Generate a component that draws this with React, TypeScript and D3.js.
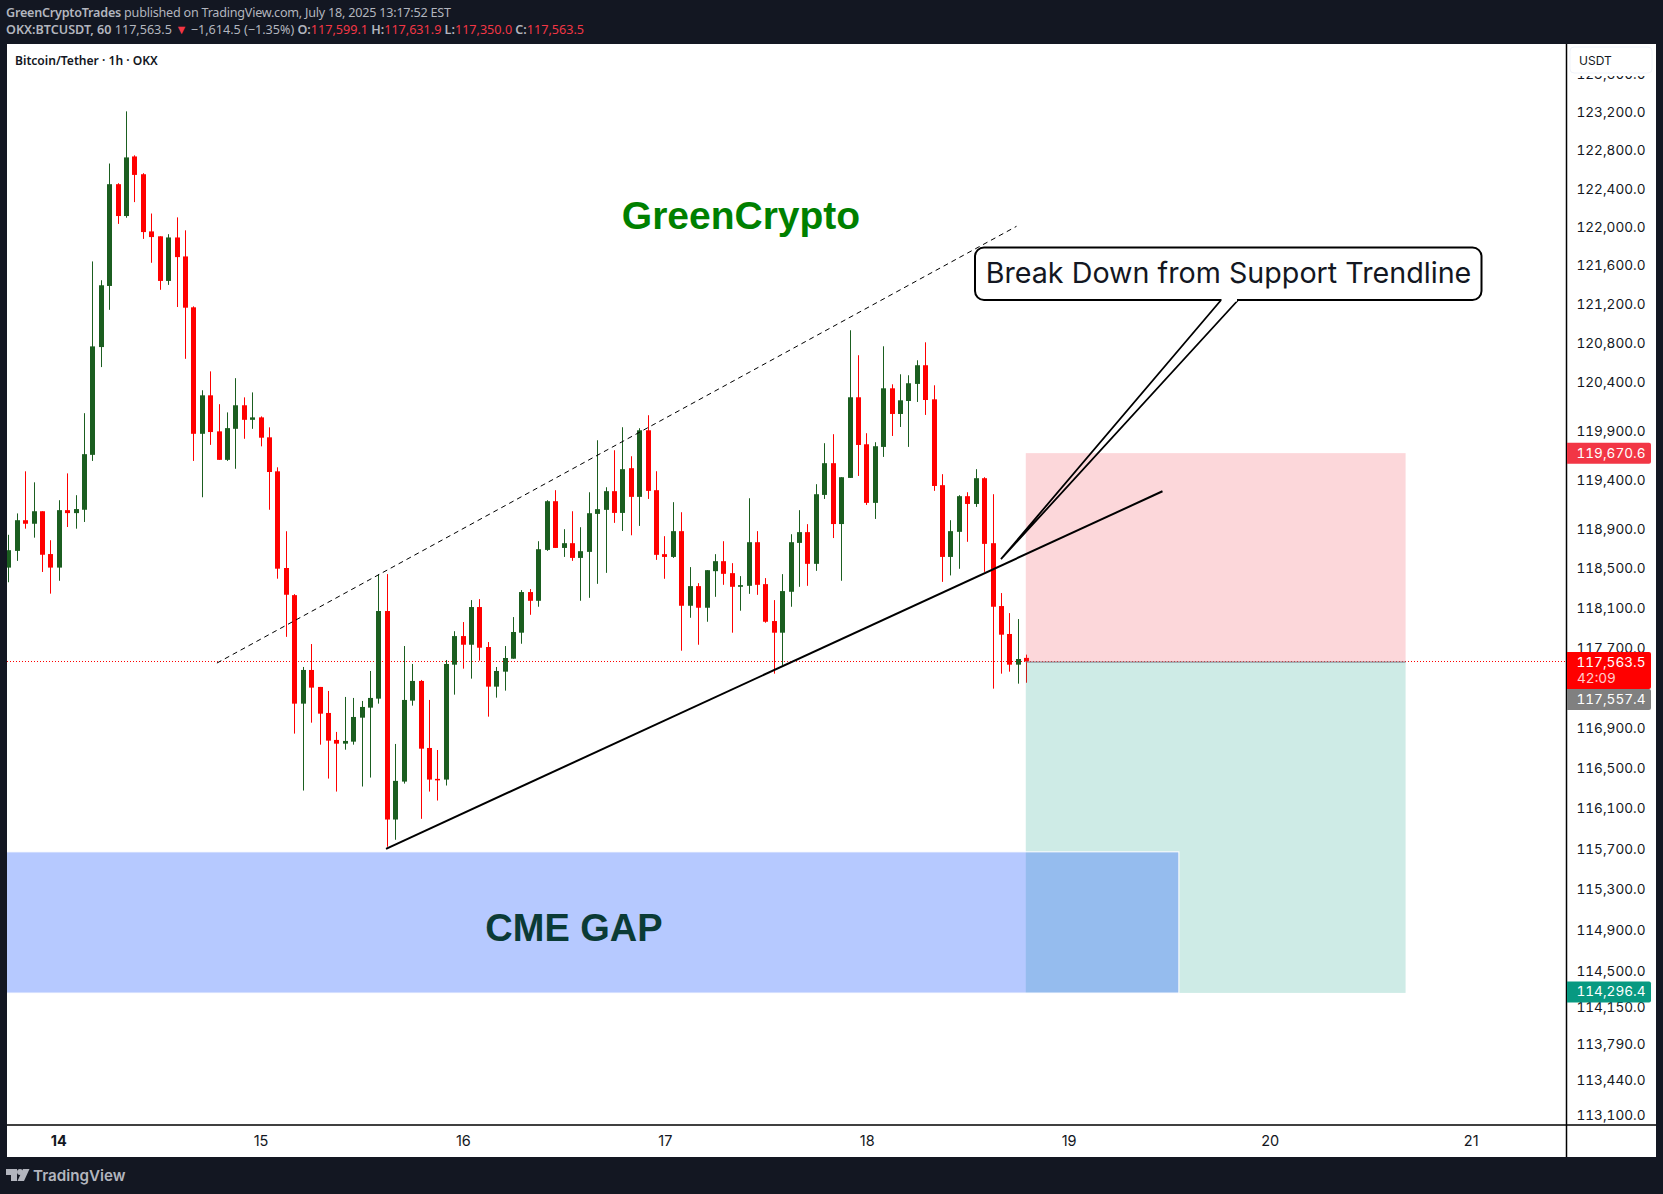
import { useEffect, useRef } from "react";
import * as d3 from "d3";

// hourly candles. index 6 is the 14th 00:00
const opens = [
  118508, 118677, 118988, 118952, 119079, 118645, 118508, 119090, 119060, 119094,
  119653, 120758, 121389, 122447, 122115, 122737, 122551, 121955, 121904, 121441,
  121892, 121695, 121168, 119868, 120262, 119893, 119602, 119919, 120160, 120011,
  120036, 119832, 119485, 118504, 118230, 117141, 117478, 117308, 117048, 116779,
  116742, 116762, 117001, 117101, 117191, 118070, 115989, 116365, 117171, 117368,
  116699, 116392, 116385, 117531, 117818, 117731, 118110, 117708, 117311, 117461,
  117591, 117852, 118261, 118173, 118687, 119181, 118707, 118755, 118606, 118667,
  119052, 119093, 119283, 119062, 119517, 119225, 119904, 119293, 118644, 118616,
  118877, 118123, 118321, 118103, 118472, 118573, 118452, 118314, 118324, 118765,
  118341, 117969, 117852, 118264, 118758, 118867, 118546, 119245, 119568, 118949,
  119418, 120242, 119761, 119164, 119734, 120334, 120071, 120204, 120379, 120571,
  120221, 119344, 118616, 118870, 119232, 119153, 119415, 118755, 118120, 117839,
  117531, 117599.1,
];
const closes = [
  118684, 118988, 118952, 119079, 118638, 118508, 119090, 119060, 119101, 119660,
  120765, 121396, 122447, 122115, 122727, 122544, 121948, 121896, 121441, 121892,
  121688, 121164, 119868, 120262, 119886, 119602, 119926, 120160, 120011, 120036,
  119828, 119478, 118497, 118234, 117141, 117478, 117301, 117041, 116772, 116742,
  116769, 117008, 117108, 117198, 118070, 115989, 116372, 117178, 117368, 116692,
  116385, 116385, 117538, 117818, 117731, 118110, 117701, 117311, 117468, 117598,
  117859, 118261, 118173, 118694, 119181, 118707, 118755, 118606, 118674, 119059,
  119100, 119283, 119062, 119507, 119225, 119904, 119286, 118637, 118616, 118877,
  118123, 118321, 118103, 118482, 118573, 118445, 118314, 118331, 118765, 118334,
  117962, 117852, 118271, 118765, 118867, 118546, 119252, 119568, 118949, 119425,
  120242, 119754, 119164, 119741, 120334, 120071, 120211, 120386, 120571, 120214,
  119336, 118616, 118877, 119232, 119153, 119415, 118748, 118113, 117832, 117531,
  117588, 117563.5,
];
const highs = [
  118840, 119057, 119485, 119373, 119079, 118785, 119191, 119464, 119242, 120079,
  121643, 121448, 122663, 122457, 123210, 122749, 122562, 122141, 121904, 121926,
  122101, 121966, 121178, 120314, 120508, 120171, 120087, 120438, 120241, 120292,
  120046, 119934, 119526, 118876, 118240, 117508, 117738, 117308, 117268, 116859,
  117208, 117198, 117168, 117468, 118442, 118442, 116739, 117718, 117538, 117378,
  117178, 116679, 117578, 117867, 117959, 118180, 118190, 117758, 117508, 117718,
  118009, 118281, 118291, 118775, 119191, 119293, 118897, 119079, 118917, 119272,
  119802, 119323, 119700, 119935, 119639, 119925, 120058, 119486, 118826, 119171,
  119069, 118513, 118351, 118482, 118644, 118775, 118553, 118422, 119211, 118877,
  118402, 118180, 118442, 118846, 119090, 118948, 119354, 119772, 119864, 119425,
  120931, 120674, 119874, 119782, 120766, 120375, 120478, 120468, 120622, 120807,
  120365, 119456, 118988, 119242, 119272, 119507, 119425, 119252, 118251, 118049,
  117989, 117631.9,
];
const lows = [
  118360, 118576, 118902, 118811, 118464, 118245, 118375, 118919, 118902, 118970,
  119591, 120552, 121142, 122033, 122097, 122260, 121877, 121629, 121349, 121400,
  121171, 120637, 119591, 119221, 119755, 119602, 119591, 119511, 119817, 119919,
  119740, 119094, 118396, 117810, 116842, 116276, 116951, 116732, 116395, 116266,
  116682, 116732, 116316, 116405, 117141, 115720, 115789, 116345, 117121, 115996,
  116266, 116177, 116326, 117231, 117491, 117391, 117571, 117011, 117201, 117271,
  117591, 117741, 118032, 118113, 118677, 118707, 118616, 118576, 118173, 118203,
  118344, 118455, 118961, 118879, 118835, 118930, 119204, 118586, 118395, 118606,
  117671, 118002, 117731, 117962, 118213, 118334, 117852, 118073, 118243, 118233,
  117952, 117441, 117528, 118113, 118314, 118324, 118475, 119204, 118807, 118375,
  119418, 119438, 119143, 119001, 119632, 119846, 119938, 119734, 120194, 120061,
  119286, 118364, 118429, 118496, 118769, 119123, 118465, 117291, 117441, 117461,
  117341, 117350,
];

const priceTicks = [
  123600, 123200, 122800, 122400, 122000, 121600, 121200, 120800, 120400, 119900,
  119400, 118900, 118500, 118100, 117700, 116900, 116500, 116100, 115700, 115300,
  114900, 114500, 114150, 113790, 113440, 113100,
];
const dayLabels = ["14", "15", "16", "17", "18", "19", "20", "21"];
const dayIndex = [6, 30.05, 54.1, 78.1, 102.1, 126.1, 150, 173.9];

// drawings, as [bar index, price]
const supportLine: [number, number][] = [[44.9, 115700], [137.2, 119282]];
const channelLine: [number, number][] = [[24.8, 117547], [119.85, 122008]];
const calloutFoot: [number, number] = [118, 118594];
const entryPrice = 117557.4;
const stopPrice = 119670.6;
const targetPrice = 114296.4;
const lastPrice = 117563.5;
const gapTop = 115670;
const gapBottom = 114285;
const positionBars = [120.95, 166.1];
const gapEndBar = 139.15;

const W = 1663;
const H = 1194;
const plot = { left: 7, right: 1566, top: 44, bottom: 1125, outer: 1656, foot: 1157 };
const axisFont = "Inter, sans-serif";

export default function App() {
  const svgRef = useRef<SVGSVGElement | null>(null);

  useEffect(() => {
    if (!svgRef.current) return;
    const svg = d3.select(svgRef.current);
    svg.selectAll("*").remove();

    const x = d3.scaleLinear().domain([0, 121]).range([8.3, 1026.2]);
    const y = d3.scaleLog().domain([123200, 113100]).range([112.3, 1115.3]);

    svg.append("rect").attr("width", W).attr("height", H).attr("fill", "#131722");
    svg.append("rect")
      .attr("x", plot.left).attr("y", plot.top)
      .attr("width", plot.outer - plot.left).attr("height", plot.foot - plot.top)
      .attr("fill", "#fff");

    svg.append("defs").append("clipPath").attr("id", "plotClip").append("rect")
      .attr("x", plot.left).attr("y", plot.top)
      .attr("width", plot.right - plot.left).attr("height", plot.bottom - plot.top);

    const g = svg.append("g").attr("clip-path", "url(#plotClip)");

    // last price line under the candles
    const lastY = Math.round(y(lastPrice)) + 0.5;
    g.append("line")
      .attr("x1", plot.left).attr("x2", plot.right)
      .attr("y1", lastY).attr("y2", lastY)
      .attr("stroke", "#ff0000").attr("stroke-width", 1).attr("stroke-dasharray", "1 2");

    // candles
    const color = (i: number) => (closes[i] >= opens[i] ? "#1b5e20" : "#ff0000");
    const idx = d3.range(opens.length);
    g.selectAll("line.wick").data(idx).enter().append("line")
      .attr("class", "wick")
      .attr("x1", (i) => Math.round(x(i)) + 0.5).attr("x2", (i) => Math.round(x(i)) + 0.5)
      .attr("y1", (i) => y(highs[i])).attr("y2", (i) => y(lows[i]))
      .attr("stroke", color).attr("stroke-width", 1);
    g.selectAll("rect.body").data(idx).enter().append("rect")
      .attr("class", "body")
      .attr("x", (i) => Math.round(x(i)) - 2).attr("width", 5)
      .attr("y", (i) => y(Math.max(opens[i], closes[i])))
      .attr("height", (i) => Math.max(1.5, Math.abs(y(opens[i]) - y(closes[i]))))
      .attr("fill", color);

    // long position box
    const px0 = x(positionBars[0]);
    const px1 = x(positionBars[1]);
    g.append("rect")
      .attr("x", px0).attr("y", y(stopPrice))
      .attr("width", px1 - px0).attr("height", y(entryPrice) - y(stopPrice))
      .attr("fill", "rgba(242,54,69,0.2)");
    g.append("rect")
      .attr("x", px0).attr("y", y(entryPrice))
      .attr("width", px1 - px0).attr("height", y(targetPrice) - y(entryPrice) + 1)
      .attr("fill", "rgba(8,153,129,0.2)");
    g.append("line")
      .attr("x1", px0).attr("x2", px1)
      .attr("y1", y(entryPrice)).attr("y2", y(entryPrice))
      .attr("stroke", "#787b86").attr("stroke-width", 1);

    // CME gap
    g.append("rect")
      .attr("x", plot.left - 2).attr("y", y(gapTop))
      .attr("width", x(gapEndBar) - plot.left + 2).attr("height", y(gapBottom) - y(gapTop))
      .attr("fill", "rgba(41,98,255,0.34)")
      .attr("stroke", "#fff").attr("stroke-width", 1);
    g.append("text")
      .attr("x", 574).attr("y", 941)
      .attr("text-anchor", "middle")
      .style("font", 'bold 38px "Liberation Sans", sans-serif')
      .style("fill", "#0b3b36")
      .text("CME GAP");

    // trend lines
    const line = d3.line<[number, number]>().x((d) => x(d[0])).y((d) => y(d[1]));
    g.append("path").attr("d", line(supportLine)).attr("fill", "none")
      .attr("stroke", "#000").attr("stroke-width", 2);
    g.append("path").attr("d", line(channelLine)).attr("fill", "none")
      .attr("stroke", "#000").attr("stroke-width", 1).attr("stroke-dasharray", "5 4");

    g.append("text")
      .attr("x", 741).attr("y", 229)
      .attr("text-anchor", "middle")
      .style("font", 'bold 39px "Liberation Sans", sans-serif')
      .style("fill", "#008000")
      .text("GreenCrypto");

    // callout
    const fx = x(calloutFoot[0]);
    const fy = y(calloutFoot[1]);
    g.append("path")
      .attr("d", `M1220.7,300.5L${fx},${fy}L1237.7,300.5`)
      .attr("fill", "none").attr("stroke", "#000").attr("stroke-width", 1.8);
    g.append("rect")
      .attr("x", 975).attr("y", 247.5).attr("width", 506.5).attr("height", 52.5).attr("rx", 9)
      .attr("fill", "#fff").attr("stroke", "#000").attr("stroke-width", 2);
    g.append("line")
      .attr("x1", 1221.5).attr("x2", 1237).attr("y1", 300).attr("y2", 300)
      .attr("stroke", "#fff").attr("stroke-width", 3);
    g.append("text")
      .attr("x", 1228.5).attr("y", 283)
      .attr("text-anchor", "middle")
      .style("font", "28.7px Inter, sans-serif")
      .style("fill", "#131722")
      .text("Break Down from Support Trendline");

    // axes
    const yAxis = svg.append("g")
      .attr("transform", `translate(${plot.right},0)`)
      .call(d3.axisRight(y).tickValues(priceTicks)
        .tickFormat((d) => d3.format(",.1f")(d as number)).tickSize(0).tickPadding(22));
    yAxis.select(".domain").remove();
    yAxis.selectAll("text")
      .attr("text-anchor", "middle")
      .style("font", `13.6px ${axisFont}`)
      .style("font-variant-numeric", "tabular-nums")
      .style("fill", "#131722");
    yAxis.selectAll("text").attr("x", 45);

    const tx = d3.scaleOrdinal<string, number>().domain(dayLabels).range(dayIndex.map((i) => x(i)));
    svg.selectAll("text.day").data(dayLabels).enter().append("text")
      .attr("class", "day")
      .attr("x", (d) => tx(d)).attr("y", 1146)
      .attr("text-anchor", "middle")
      .style("font", (d) => `${d === "14" ? "bold " : ""}14.5px ${axisFont}`)
      .style("fill", "#131722")
      .text((d) => d);

    svg.append("line").attr("x1", plot.right + 0.5).attr("x2", plot.right + 0.5)
      .attr("y1", plot.top).attr("y2", plot.foot).attr("stroke", "#000").attr("stroke-width", 1.5);
    svg.append("line").attr("x1", plot.left).attr("x2", plot.outer)
      .attr("y1", plot.bottom).attr("y2", plot.bottom).attr("stroke", "#000").attr("stroke-width", 1.5);

    // USDT badge, hides the top of the clipped tick
    svg.append("rect").attr("x", plot.right + 2).attr("y", plot.top)
      .attr("width", plot.outer - plot.right - 2).attr("height", 32).attr("fill", "#fff");
    svg.append("rect").attr("x", 1570).attr("y", 47).attr("width", 82).attr("height", 26).attr("rx", 4)
      .attr("fill", "#fff").attr("stroke", "#f0f3fa");
    svg.append("text").attr("x", 1579).attr("y", 65)
      .style("font", `12px ${axisFont}`).style("fill", "#131722").text("USDT");

    // price tags
    const fmt = d3.format(",.1f");
    const tag = (price: number, fill: string, h = 21, top?: number) => {
      const ty = top ?? y(price) - h / 2;
      svg.append("path")
        .attr("d", `M${plot.right + 1},${ty}h82a2,2 0 0 1 2,2v${h - 4}a2,2 0 0 1 -2,2h-82z`)
        .attr("fill", fill);
      svg.append("text").attr("x", plot.right + 45).attr("y", ty + 15)
        .attr("text-anchor", "middle")
        .style("font", `13.6px ${axisFont}`).style("font-variant-numeric", "tabular-nums")
        .style("fill", "#fff").text(fmt(price));
    };
    tag(stopPrice, "#f23645");
    tag(targetPrice, "#089981");
    tag(entryPrice, "#808080", 21, 689);
    tag(lastPrice, "#ff0000", 37, 652);
    svg.append("text").attr("x", 1577).attr("y", 683)
      .style("font", `13.6px ${axisFont}`).style("font-variant-numeric", "tabular-nums")
      .style("fill", "#fff").style("opacity", 0.8).text("42:09");

    // header
    const head = svg.append("g").style("font", '12.6px "Noto Sans", sans-serif').style("fill", "#b2b5be");
    const t1 = head.append("text").attr("x", 6).attr("y", 17).attr("textLength", 445);
    t1.append("tspan").style("font-weight", 600).text("GreenCryptoTrades");
    t1.append("tspan").text(" published on TradingView.com, July 18, 2025 13:17:52 EST");
    const t2 = head.append("text").attr("x", 6).attr("y", 34).attr("textLength", 578);
    t2.append("tspan").style("font-weight", 600).text("OKX:BTCUSDT, 60");
    t2.append("tspan").text(" 117,563.5 ");
    t2.append("tspan").style("fill", "#f23645").text("▼");
    t2.append("tspan").text(" −1,614.5 (−1.35%) ");
    [["O:", "117,599.1"], ["H:", "117,631.9"], ["L:", "117,350.0"], ["C:", "117,563.5"]].forEach(([k, v], i) => {
      t2.append("tspan").style("font-weight", 600).text(k);
      t2.append("tspan").style("fill", "#f23645").text(i < 3 ? v + " " : v);
    });

    svg.append("text").attr("x", 15).attr("y", 65)
      .style("font", '600 12.1px "Noto Sans", sans-serif').style("fill", "#131722")
      .text("Bitcoin/Tether · 1h · OKX");

    // TradingView mark
    svg.append("text").attr("x", 33).attr("y", 1181)
      .style("font", "600 15.2px Inter, sans-serif").style("fill", "#b2b5be")
      .text("TradingView");
    svg.append("path")
      .attr("d", "M6 1169H17V1181H11V1175H6ZM23 1169H29.5L24 1181H17.5Z")
      .attr("fill", "#b2b5be");
    svg.append("circle").attr("cx", 20).attr("cy", 1172).attr("r", 3).attr("fill", "#b2b5be");
  }, []);

  return (
    <div style={{ position: "fixed", left: 0, top: 0 }}>
      <svg ref={svgRef} width={W} height={H} style={{ display: "block" }} />
    </div>
  );
}
